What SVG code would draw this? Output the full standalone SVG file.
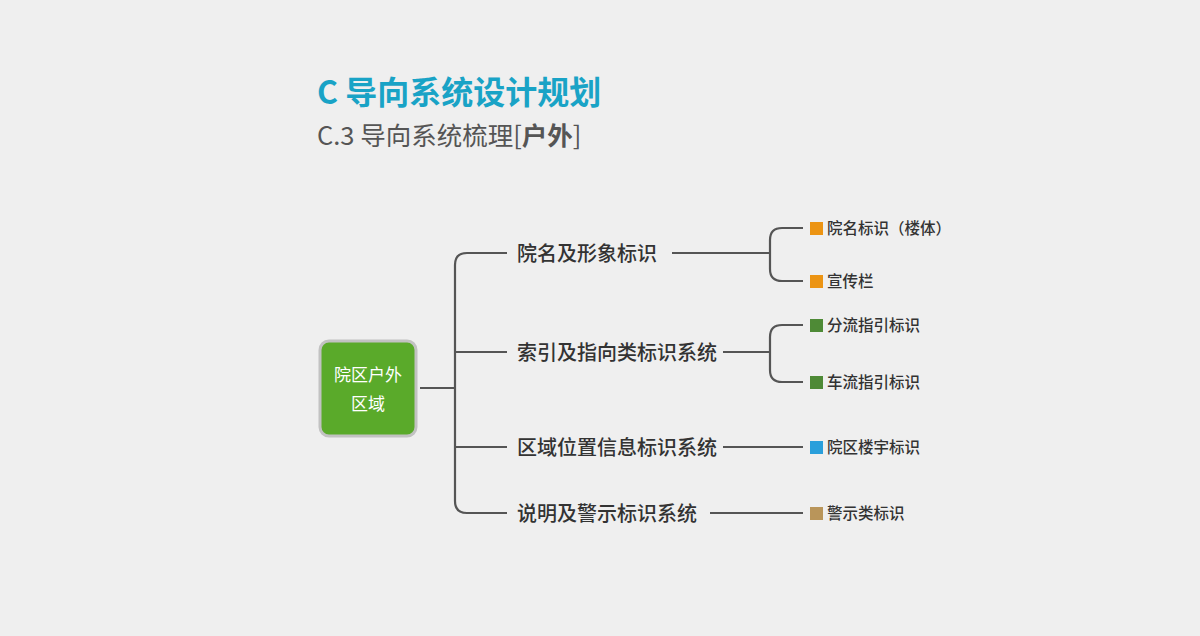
<svg xmlns="http://www.w3.org/2000/svg" width="1200" height="636" viewBox="0 0 1200 636">
<style>
text{font-family:"Noto Sans CJK SC","Noto Sans",sans-serif}
.l1{font-size:20px;fill:#333;font-weight:500}
.l2{font-size:15.5px;fill:#333;font-weight:500}
.c{fill:none;stroke:#555;stroke-width:2.2}
</style>
<rect width="1200" height="636" fill="#efefef"/>
<text x="317" y="104" font-size="32" font-weight="bold" fill="#19a3c6">C 导向系统设计规划</text>
<text x="317" y="145" font-size="25.5" fill="#555">C.3 导向系统梳理[<tspan font-weight="bold">户外</tspan>]</text>
<g id="connectors">
<path class="c" d="M420 388H455M507 253H467Q455 253 455 265V501Q455 513 467 513H507M455 352H507M455 447H507"/>
<path class="c" d="M672 253H770M803 228H782Q770 228 770 240V269Q770 281 782 281H803"/>
<path class="c" d="M723 352H770M803 325H782Q770 325 770 337V370Q770 382 782 382H803"/>
<path class="c" d="M723 447H803M710 513H803"/>
</g>
<g id="root"><rect x="320" y="341" width="96" height="95" rx="9" fill="#5aaa2a" stroke="#c2c2c2" stroke-width="3"/>
<text x="368" y="381" font-size="17" fill="#fff" text-anchor="middle">院区户外</text>
<text x="368" y="410" font-size="17" fill="#fff" text-anchor="middle">区域</text></g>
<g id="n1"><text class="l1" x="517" y="261">院名及形象标识</text></g>
<g id="n2"><text class="l1" x="517" y="360">索引及指向类标识系统</text></g>
<g id="n3"><text class="l1" x="517" y="455">区域位置信息标识系统</text></g>
<g id="n4"><text class="l1" x="517" y="521">说明及警示标识系统</text></g>
<g id="n1a"><rect x="810" y="222" width="13" height="13" fill="#ec9413"/><text class="l2" x="827" y="234">院名标识（楼体）</text></g>
<g id="n1b"><rect x="810" y="275" width="13" height="13" fill="#ec9413"/><text class="l2" x="827" y="287">宣传栏</text></g>
<g id="n2a"><rect x="810" y="319" width="13" height="13" fill="#4e8a36"/><text class="l2" x="827" y="331">分流指引标识</text></g>
<g id="n2b"><rect x="810" y="376" width="13" height="13" fill="#4e8a36"/><text class="l2" x="827" y="388">车流指引标识</text></g>
<g id="n3a"><rect x="810" y="441" width="13" height="13" fill="#2a9fdb"/><text class="l2" x="827" y="453">院区楼宇标识</text></g>
<g id="n4a"><rect x="810" y="507" width="13" height="13" fill="#b9955a"/><text class="l2" x="827" y="519">警示类标识</text></g>
</svg>
